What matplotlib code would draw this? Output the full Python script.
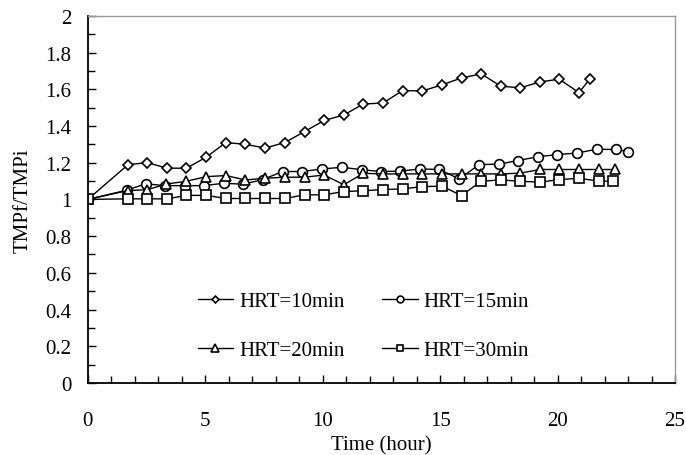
import matplotlib
matplotlib.use("Agg")
import matplotlib.pyplot as plt
from matplotlib.ticker import MultipleLocator, FuncFormatter

plt.rcParams['font.family'] = ['Liberation Serif', 'DejaVu Serif']
plt.rcParams['font.size'] = 15

# HRT=10min
t10 = [0, 1.72, 2.54, 3.38, 4.2, 5.04, 5.88, 6.71, 7.55, 8.39, 9.23, 10.06, 10.9,
       11.73, 12.57, 13.4, 14.24, 15.08, 15.91, 16.75, 17.58, 18.41, 19.25, 20.07,
       20.91, 21.38]
r10 = [1.0, 1.19, 1.20, 1.17, 1.17, 1.23, 1.31, 1.30, 1.28, 1.31, 1.37, 1.43, 1.46,
       1.52, 1.525, 1.593, 1.591, 1.624, 1.662, 1.684, 1.617, 1.608, 1.64, 1.655,
       1.582, 1.657]

# HRT=15min
t15 = [0, 1.65, 2.46, 3.28, 4.12, 4.94, 5.78, 6.61, 7.45, 8.29, 9.13, 9.97, 10.82,
       11.66, 12.47, 13.3, 14.14, 14.96, 15.81, 16.67, 17.49, 18.33, 19.17, 19.99,
       20.83, 21.66, 22.5, 23.0]
r15 = [1.0, 1.05, 1.085, 1.075, 1.075, 1.075, 1.088, 1.083, 1.108, 1.152, 1.152,
       1.166, 1.175, 1.162, 1.152, 1.154, 1.166, 1.163, 1.112, 1.19, 1.192, 1.212,
       1.233, 1.244, 1.253, 1.273, 1.272, 1.261]

# HRT=20min
t20 = [0, 1.69, 2.54, 3.35, 4.2, 5.04, 5.88, 6.71, 7.55, 8.39, 9.23, 10.06, 10.9,
       11.73, 12.55, 13.4, 14.24, 15.08, 15.91, 16.75, 17.58, 18.41, 19.25, 20.07,
       20.91, 21.75, 22.46]
r20 = [1.0, 1.048, 1.053, 1.084, 1.099, 1.124, 1.13, 1.106, 1.115, 1.121, 1.121,
       1.133, 1.08, 1.142, 1.139, 1.139, 1.139, 1.139, 1.139, 1.139, 1.139, 1.143,
       1.163, 1.163, 1.163, 1.163, 1.163]

# HRT=30min
t30 = [0, 1.69, 2.54, 3.38, 4.2, 5.04, 5.88, 6.71, 7.55, 8.39, 9.23, 10.06, 10.9,
       11.73, 12.57, 13.4, 14.24, 15.08, 15.91, 16.75, 17.58, 18.41, 19.25, 20.07,
       20.91, 21.75, 22.34]
r30 = [1.0, 1.003, 1.003, 1.003, 1.022, 1.022, 1.005, 1.005, 1.005, 1.005, 1.025,
       1.025, 1.043, 1.047, 1.054, 1.057, 1.07, 1.072, 1.021, 1.099, 1.106, 1.099,
       1.094, 1.108, 1.115, 1.1, 1.099]

fig = plt.figure(figsize=(6.86, 4.56), dpi=100)
ax = fig.add_axes([0.128, 0.158, 0.856, 0.805])

style = dict(color='black', lw=1.0, mfc='white', mec='black', mew=1.2)
l10, = ax.plot(t10, r10, marker='D', ms=5.0, label='HRT=10min', **style)
l15, = ax.plot(t15, r15, marker='o', ms=7.0, label='HRT=15min', **style)
l20, = ax.plot(t20, r20, marker='^', ms=7.5, label='HRT=20min', **style)
l30, = ax.plot(t30, r30, marker='s', ms=6.8, label='HRT=30min', **style)

ax.set_xlim(0, 25)
ax.set_ylim(0, 2)
ax.xaxis.set_major_locator(MultipleLocator(5))
ax.xaxis.set_minor_locator(MultipleLocator(1))
ax.yaxis.set_major_locator(MultipleLocator(0.2))
ax.yaxis.set_minor_locator(MultipleLocator(0.1))
ax.yaxis.set_major_formatter(FuncFormatter(lambda v, p: f'{v:.1f}'.rstrip('0').rstrip('.')))
ax.tick_params(which='both', direction='in', top=False, right=False, width=1.0)
ax.tick_params(which='major', length=6, labelsize=15)
ax.tick_params(which='minor', length=5)
ax.tick_params(axis='x', pad=20)
ax.tick_params(axis='y', pad=12)

for s in ['left', 'bottom']:
    ax.spines[s].set_linewidth(1.3)
for s in ['top', 'right']:
    ax.spines[s].set_color('#999999')
    ax.spines[s].set_linewidth(1.0)

ax.set_xlabel('Time (hour)', fontsize=15, labelpad=4)
ax.set_ylabel('TMPf/TMPi', fontsize=15, labelpad=9)

# row-major order like the original: 10, 15 / 20, 30
ax.legend([l10, l20, l15, l30], ['HRT=10min', 'HRT=20min', 'HRT=15min', 'HRT=30min'],
          ncol=2, frameon=False, loc='upper left', bbox_to_anchor=(0.155, 0.30),
          markerscale=0.7, handlelength=1.7, handletextpad=0.3,
          columnspacing=1.8, labelspacing=1.4, fontsize=15)

fig.savefig('out.png', dpi=100)
